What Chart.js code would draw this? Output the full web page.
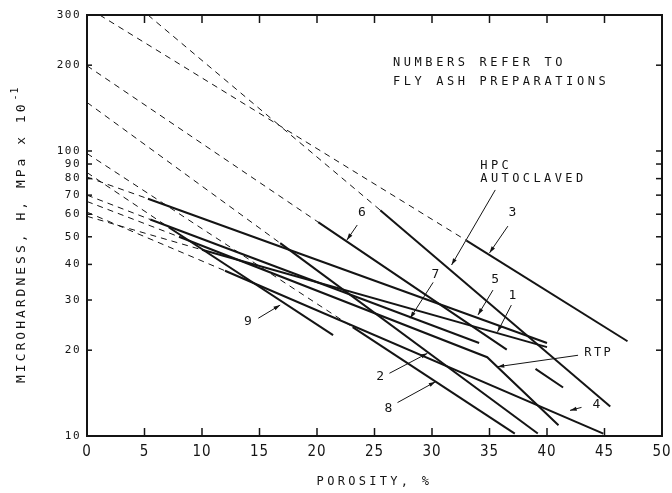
<!DOCTYPE html>
<html>
<head>
<meta charset="utf-8">
<script src="https://cdn.jsdelivr.net/npm/chart.js@4.4.1/dist/chart.umd.min.js"></script>
<style>
  html, body { margin: 0; padding: 0; background: #fff; }
</style>
</head>
<body>
<canvas id="hardnessChart" width="672" height="493"></canvas>
<script>
const xTicks = [0, 5, 10, 15, 20, 25, 30, 35, 40, 45, 50];
const yTicks = [10, 20, 30, 40, 50, 60, 70, 80, 90, 100, 200, 300];

// [porosity %, H] - dashed part is the extrapolation, solid part is measured
const dash1 = [[0, 59], [10, 45]];
const solid1 = [[10, 45], [40, 20.5]];
const dash2 = [[0, 148], [16.8, 47.5]];
const solid2 = [[16.8, 47.5], [39.2, 10.2]];
const dash3 = [[1.1, 300], [33.0, 48.5]];
const solid3 = [[33.0, 48.5], [47.0, 21.5]];
const dash4 = [[0, 61], [12, 38]];
const solid4 = [[12, 38], [44.9, 10.2]];
const dash5 = [[0, 81], [5.3, 68]];
const solid5 = [[5.3, 68], [40, 21.2]];
const dash6 = [[0, 199], [20.1, 56.3]];
const solid6 = [[20.1, 56.3], [36.5, 20.1], [37.7, null], [39.0, 17.2], [41.4, 14.8]];
const dash7 = [[0, 70], [5.5, 57.5]];
const solid7 = [[5.5, 57.5], [34.1, 21.2]];
const dash8 = [[0, 98], [23.1, 24.1]];
const solid8 = [[23.1, 24.1], [37.2, 10.2]];
const dash9 = [[0, 84], [7.1, 54]];
const solid9 = [[7.1, 54], [21.4, 22.6]];
const dashHPC = [[5.3, 300], [25.5, 62]];
const solidHPC = [[25.5, 62], [45.5, 12.7]];
const dashRTP = [[0, 66.5], [8, 50]];
const solidRTP = [[8, 50], [34.8, 18.9], [41, 10.9]];

const curveNames = ['1', '2', '3', '4', '5', '6', '7', '8', '9', 'HPC', 'RTP'];
const curveDash = [dash1, dash2, dash3, dash4, dash5, dash6, dash7, dash8, dash9, dashHPC, dashRTP];
const curveSolid = [solid1, solid2, solid3, solid4, solid5, solid6, solid7, solid8, solid9, solidHPC, solidRTP];

// curve labels: text position, arrow tail, arrow head
const labelText = ['6', '3', '5', '1', '7', 'RTP', '2', '8', '4', '9'];
const labelAt = [[23.9, 60.6], [37.0, 60.6], [35.5, 35.3], [37.0, 31.2], [30.3, 36.7], [44.5, 19.5], [25.5, 16.1], [26.2, 12.5], [44.3, 12.85], [14.0, 25.1]];
const arrowFrom = [[23.5, 55.0], [36.6, 54.5], [35.3, 32.5], [36.9, 28.8], [30.1, 34.6], [42.7, 19.2], [26.3, 16.6], [27.0, 13.1], [43.0, 12.6], [14.9, 25.9]];
const arrowTo = [[22.6, 48.7], [35.0, 43.9], [34.0, 26.6], [35.7, 23.2], [28.1, 25.9], [35.7, 17.5], [29.6, 19.5], [30.3, 15.5], [42.0, 12.3], [16.8, 28.8]];
const hpcText = ['HPC', 'AUTOCLAVED'];
const hpcAt = [[34.2, 88.6], [34.2, 79.6]];
const hpcFrom = [35.5, 73.0];
const hpcTo = [31.7, 39.8];
const noteText = ['NUMBERS REFER TO', 'FLY ASH PREPARATIONS'];
const noteAt = [[26.6, 204], [26.6, 175]];

const ink = '#141414';
const mono = '"DejaVu Sans Mono", monospace';

function toPoints(arr) {
    return arr.map(p => ({ x: p[0], y: p[1] }));
}

const datasets = [];
curveNames.forEach((name, i) => {
    datasets.push({
        label: name + ' (extrapolated)',
        data: toPoints(curveDash[i]),
        borderColor: ink,
        borderWidth: 1,
        borderDash: [6, 5],
        pointRadius: 0,
        fill: false,
        tension: 0,
    });
    datasets.push({
        label: name,
        data: toPoints(curveSolid[i]),
        borderColor: ink,
        borderWidth: 2,
        pointRadius: 0,
        fill: false,
        tension: 0,
        spanGaps: false,
    });
});

// frame, inward ticks, tick labels, axis titles and curve labels
const paperPlugin = {
    id: 'paper',
    afterDraw(chart) {
        const ctx = chart.ctx;
        const a = chart.chartArea;
        const xs = chart.scales.x;
        const ys = chart.scales.y;
        const px = v => xs.getPixelForValue(v);
        const py = v => ys.getPixelForValue(v);

        function seg(x1, y1, x2, y2) {
            ctx.beginPath();
            ctx.moveTo(x1, y1);
            ctx.lineTo(x2, y2);
            ctx.stroke();
        }

        function arrow(from, to) {
            const x1 = px(from[0]), y1 = py(from[1]);
            const x2 = px(to[0]), y2 = py(to[1]);
            ctx.lineWidth = 1;
            seg(x1, y1, x2, y2);
            const ang = Math.atan2(y2 - y1, x2 - x1);
            ctx.beginPath();
            ctx.moveTo(x2, y2);
            ctx.lineTo(x2 - 7 * Math.cos(ang - 0.3), y2 - 7 * Math.sin(ang - 0.3));
            ctx.lineTo(x2 - 7 * Math.cos(ang + 0.3), y2 - 7 * Math.sin(ang + 0.3));
            ctx.closePath();
            ctx.fill();
        }

        ctx.save();
        ctx.strokeStyle = ink;
        ctx.fillStyle = ink;

        ctx.lineWidth = 2;
        ctx.strokeRect(a.left, a.top, a.right - a.left, a.bottom - a.top);

        ctx.lineWidth = 1.5;
        xTicks.slice(1, -1).forEach(v => {
            seg(px(v), a.bottom, px(v), a.bottom - 8);
            seg(px(v), a.top, px(v), a.top + 8);
        });
        yTicks.slice(1, -1).forEach(v => {
            seg(a.left, py(v), a.left + 5, py(v));
            seg(a.right, py(v), a.right - 6, py(v));
        });

        // tick labels
        ctx.textBaseline = 'middle';
        ctx.font = '15px "DejaVu Sans Condensed", sans-serif';
        ctx.textAlign = 'center';
        ctx.letterSpacing = '1px';
        xTicks.forEach(v => ctx.fillText(String(v), px(v), a.bottom + 16));
        ctx.font = '11px ' + mono;
        ctx.textAlign = 'right';
        ctx.letterSpacing = '1.5px';
        yTicks.forEach(v => ctx.fillText(String(v), a.left - 6, py(v)));

        // axis titles
        ctx.textAlign = 'center';
        ctx.font = '12px ' + mono;
        ctx.letterSpacing = '3.3px';
        ctx.fillText('POROSITY, %', (a.left + a.right) / 2, a.bottom + 46);

        ctx.save();
        ctx.translate(22, 383);
        ctx.rotate(-Math.PI / 2);
        ctx.textAlign = 'left';
        ctx.font = '13px ' + mono;
        ctx.letterSpacing = '3px';
        const main = 'MICROHARDNESS, H, MPa x 10';
        ctx.fillText(main, 0, 0);
        const w = ctx.measureText(main).width;
        ctx.font = '10px ' + mono;
        ctx.letterSpacing = '1px';
        ctx.fillText('-1', w + 1, -7);
        ctx.restore();

        // note
        ctx.textAlign = 'left';
        ctx.font = '12px ' + mono;
        ctx.letterSpacing = '3.6px';
        noteText.forEach((t, i) => ctx.fillText(t, px(noteAt[i][0]), py(noteAt[i][1])));

        // HPC autoclaved label
        ctx.letterSpacing = '3.4px';
        hpcText.forEach((t, i) => ctx.fillText(t, px(hpcAt[i][0]), py(hpcAt[i][1])));
        arrow(hpcFrom, hpcTo);

        // numbered curve labels
        ctx.textAlign = 'center';
        labelText.forEach((t, i) => {
            ctx.font = (t.length > 1 ? '12px ' : '13px ') + mono;
            ctx.letterSpacing = t.length > 1 ? '2.5px' : '0px';
            ctx.fillText(t, px(labelAt[i][0]), py(labelAt[i][1]));
            arrow(arrowFrom[i], arrowTo[i]);
        });

        ctx.restore();
    }
};

const ctx = document.getElementById('hardnessChart').getContext('2d');

const hardnessChart = new Chart(ctx, {
    type: 'line',
    data: { datasets: datasets },
    plugins: [paperPlugin],
    options: {
        responsive: false,
        animation: false,
        devicePixelRatio: 1,
        layout: { padding: { top: 15, right: 10, left: 0, bottom: 0 } },
        plugins: {
            legend: { display: false },
            tooltip: { enabled: false },
        },
        scales: {
            x: {
                type: 'linear',
                min: 0,
                max: 50,
                ticks: { display: false },
                grid: { display: false },
                border: { display: false },
                afterFit: s => { s.height = 57; },
            },
            y: {
                type: 'logarithmic',
                min: 10,
                max: 300,
                ticks: { display: false },
                grid: { display: false },
                border: { display: false },
                afterFit: s => { s.width = 87; },
            }
        }
    }
});
</script>
</body>
</html>
